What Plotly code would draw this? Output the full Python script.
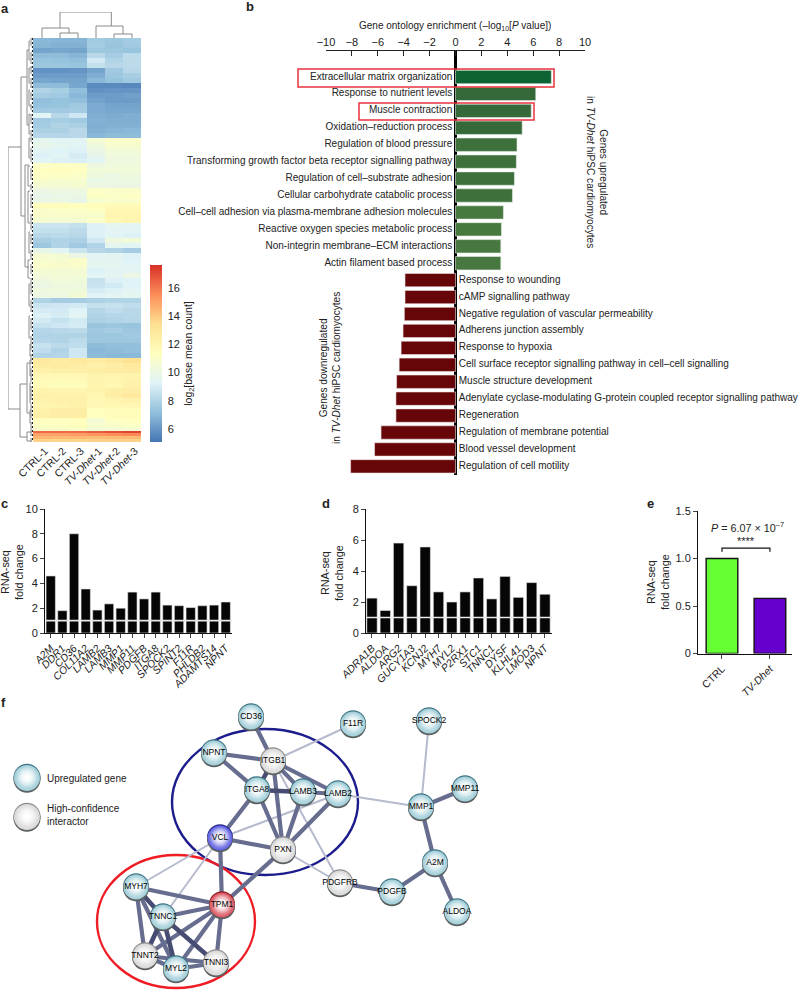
import numpy as np
import plotly.graph_objects as go

W, H = 800, 991
FONT = "Liberation Sans"
TXT = "#222222"

# ---------- panel a ----------
samples = ["CTRL-1", "CTRL-2", "CTRL-3", "<i>TV-Dhet</i>-1", "<i>TV-Dhet</i>-2", "<i>TV-Dhet</i>-3"]
heat_rows = [
[7.0,6.9,6.9,7.6,7.5,7.7],[6.9,6.8,6.8,7.7,7.4,7.6],[6.4,6.5,6.4,7.5,7.5,7.4],[7.1,7.1,6.9,8.2,7.7,8.3],
[7.4,7.3,7.2,8.9,8.0,8.3],[7.5,7.5,7.4,8.5,8.2,8.3],[5.9,5.9,6.0,6.4,7.6,8.2],[6.2,6.2,6.2,6.7,7.5,7.8],
[6.5,6.4,6.4,7.0,7.3,7.6],[7.1,7.1,6.5,5.7,5.7,5.6],[8.0,7.8,7.2,5.9,6.0,6.0],[7.7,7.6,7.0,6.2,6.2,6.3],
[7.2,7.3,7.2,6.4,6.2,6.2],[7.3,7.4,7.6,6.6,6.4,6.4],[7.6,7.6,7.7,6.6,6.5,6.5],[9.4,8.2,8.8,6.7,6.6,6.7],
[7.6,7.8,7.6,6.8,6.7,6.7],[7.7,8.0,7.9,6.7,6.8,6.8],[7.9,7.9,8.2,6.8,6.9,7.0],[8.1,8.1,8.2,7.0,7.1,7.1],
[9.6,9.5,9.5,10.6,11.0,11.0],[9.8,9.6,9.4,10.3,10.8,10.8],[9.4,9.3,9.2,10.0,10.5,10.5],[9.2,9.4,9.0,9.7,10.3,10.3],
[9.4,9.2,9.1,9.4,10.2,10.2],[11.1,11.2,11.2,10.2,10.3,10.3],[11.3,11.4,11.3,10.4,10.4,10.4],[11.2,11.2,11.1,10.2,10.1,10.2],
[10.9,10.8,10.8,9.9,10.1,10.1],[10.6,10.6,10.7,10.1,10.0,10.0],[10.0,10.1,10.1,11.1,11.0,11.0],[9.8,9.9,10.0,11.2,11.1,11.2],
[10.0,10.1,9.8,10.8,11.0,11.0],[11.5,11.5,11.4,11.6,11.7,11.7],[11.0,11.1,11.1,11.2,11.9,11.9],[10.9,10.9,10.9,10.9,12.0,12.0],
[10.7,10.6,10.7,11.1,11.8,12.0],[8.7,8.7,8.5,9.2,9.6,9.5],[8.5,8.5,8.3,9.2,9.4,9.4],[8.2,8.3,8.2,9.2,9.4,9.2],
[7.8,8.0,7.9,8.8,10.2,10.4],[7.5,8.0,7.6,8.0,9.6,9.4],[9.8,9.4,8.7,8.2,8.0,7.7],[10.6,10.5,10.0,9.4,9.5,9.2],
[10.8,10.8,11.0,9.6,9.5,9.3],[11.0,10.9,11.0,9.6,9.6,9.4],[10.7,10.6,10.6,9.2,9.4,9.5],[10.4,10.5,10.5,9.4,9.5,10.0],
[10.2,10.4,10.3,8.6,9.2,9.3],[10.0,10.2,10.2,8.7,8.9,9.3],[10.2,10.3,10.3,9.0,9.2,9.4],[10.1,10.1,10.5,9.3,9.5,9.6],
[8.0,7.7,7.7,7.9,8.0,8.0],[8.7,8.8,8.9,8.5,8.6,8.4],[9.0,8.9,9.3,8.1,8.4,8.2],[9.2,9.0,9.4,8.0,8.1,8.2],
[8.9,8.6,8.9,7.9,8.0,8.1],[8.6,8.8,9.0,7.4,7.5,7.4],[8.1,8.2,8.3,7.6,7.7,7.5],[8.0,8.0,8.0,7.5,7.5,7.6],
[8.1,8.0,8.3,7.5,7.5,7.5],[8.6,8.3,8.4,7.1,7.2,7.2],[8.4,8.0,8.8,7.0,7.1,7.2],[8.0,8.1,8.8,7.1,7.0,7.0],
[12.8,12.6,12.8,12.7,13.0,13.3],[12.6,12.7,12.5,12.3,12.5,12.8],[12.3,12.4,12.4,12.5,12.6,12.7],[11.9,11.8,11.9,12.1,12.0,12.1],
[11.7,11.6,11.7,12.0,12.0,12.2],[11.6,11.5,11.5,12.0,11.9,12.3],[12.1,12.0,12.0,12.1,12.4,12.5],[12.3,12.2,12.2,11.9,12.5,12.8],
[12.2,12.3,12.3,11.8,12.0,12.2],[12.0,12.1,12.3,11.8,11.8,11.9],[12.3,12.5,12.5,11.4,11.5,11.6],[12.4,12.5,12.4,11.3,11.6,11.6],
[11.4,11.3,11.4,10.6,11.2,11.3],[11.2,11.3,11.5,10.8,11.0,11.1],
[10.9,10.9,11.0,10.4,10.6,10.6],[16.3,16.3,16.3,16.6,16.9,17.2],[15.0,15.0,15.1,15.3,15.5,15.6],
[14.5,14.4,14.5,14.3,14.4,14.4],[13.8,13.7,13.7,13.8,13.8,13.8],
]
row_spans = [5] * 78 + [3, 2, 3, 3, 3]
heat_colors = ["#4575B4", "#91BFDB", "#E0F3F8", "#FFFFBF", "#FEE090", "#FC8D59", "#D73027"]
cbar_ticks = [6, 8, 10, 12, 14, 16]

# dendrograms: (pos_a, height_a, pos_b, height_b, merge height)
col_tree = [(1, 0, 2, 0, 5), (0, 0, 1.5, 5, 10), (4, 0, 5, 0, 4), (3, 0, 4.5, 4, 12), (1.0, 10, 3.85, 12, 26)]
row_tree = [
(109,12,371,13,25),(39,6,178,8,12),(12,4,87,4,6),(127,4,229,4,8),(346,6,399,6,13),(325,3,375,3,6),(394,1,403,1,6),
(3,3,22,3,4),(30,3,45,3,4),(52,3,68,3,4),(76,3,96,3,4),(100,3,120,3,4),(128,3,148,3,5),(153,3,185,3,5),(194,3,215,3,4),
(222,3,240,3,5),(246,3,268,3,4),(278,3,300,3,4),(306,2,318,2,3),(322,2,338,2,3),(345,2,365,2,3),(372,2,385,2,3),
]
row_clusters = [(0,8),(14,26),(28,36),(40,50),(54,62),(66,72),(76,86),(92,104),(110,124),(130,142),(146,152),(156,170),(176,192),
(196,206),(212,222),(226,236),(240,256),(262,274),(280,292),(298,312),(316,326),(330,344),(348,362),(366,380),(384,398),(400,404)]

# ---------- panel b ----------
go_terms_up = ["Extracellular matrix organization","Response to nutrient levels","Muscle contraction","Oxidation–reduction process",
"Regulation of blood pressure","Transforming growth factor beta receptor signalling pathway","Regulation of cell–substrate adhesion",
"Cellular carbohydrate catabolic process","Cell–cell adhesion via plasma-membrane adhesion molecules","Reactive oxygen species metabolic process",
"Non-integrin membrane–ECM interactions","Actin filament based process"]
go_up = [7.4,6.2,5.85,5.15,4.75,4.7,4.55,4.4,3.7,3.55,3.5,3.5]
go_up_colors = ["#0e6335","#35693a","#35693a","#35693a","#3e703c","#3e703c","#3e703c","#3e703c","#47783f","#47783f","#47783f","#47783f"]
go_terms_down = ["Response to wounding","cAMP signalling pathway","Negative regulation of vascular permeability","Adherens junction assembly",
"Response to hypoxia","Cell surface receptor signalling pathway in cell–cell signalling","Muscle structure development",
"Adenylate cyclase-modulating G-protein coupled receptor signalling pathway","Regeneration","Regulation of membrane potential",
"Blood vessel development","Regulation of cell motility"]
go_down = [-3.9,-3.9,-3.95,-4.05,-4.2,-4.35,-4.55,-4.6,-4.6,-5.75,-6.25,-8.1]
go_ticks = [-10,-8,-6,-4,-2,0,2,4,6,8,10]

# ---------- panels c, d, e ----------
c_genes = ["A2M","DDR1","CD36","COL11A2","LAMB2","LAMB3","MMP1","MMP11","PDGFB","ITGA8","SPOCK2","SPINT2","F11R","PHLDB2","ADAMTS14","NPNT"]
c_vals = [4.6,1.8,8.0,3.55,1.85,2.35,2.0,3.3,2.75,3.3,2.25,2.2,2.05,2.2,2.25,2.5]
d_genes = ["ADRA1B","ALDOA","ARG2","GUCY1A3","KCNJ2","MYH7","MYL2","P2RX1","STC1","TNNC1","DYSF","KLHL41","LMOD3","NPNT"]
d_vals = [2.25,1.45,5.8,3.05,5.55,2.65,2.0,2.65,3.55,2.2,3.65,2.3,3.25,2.5]
e_groups = ["CTRL","<i>TV-Dhet</i>"]
e_vals = [1.0,0.58]
e_colors = ["#66ff33","#6600cc"]

# ---------- panel f ----------
nodes = {"CD36":(251,717,"t"),"F11R":(353,724,"t"),"SPOCK2":(429,721,"t"),"NPNT":(214,753,"t"),"ITGB1":(273,761,"g"),
"ITGA8":(257,790,"t"),"LAMB3":(303,792,"t"),"LAMB2":(338,794,"t"),"MMP1":(421,807,"t"),"MMP11":(465,789,"t"),
"VCL":(220,838,"b"),"PXN":(283,850,"g"),"PDGFRB":(340,883,"g"),"PDGFB":(392,892,"t"),"A2M":(435,863,"t"),"ALDOA":(457,912,"t"),
"MYH7":(136,887,"t"),"TPM1":(222,905,"r"),"TNNC1":(163,917,"t"),"TNNT2":(145,956,"g"),"MYL2":(176,969,"t"),"TNNI3":(216,963,"g")}
strong_edges = [("TNNC1","TNNI3"),("TNNC1","MYL2"),("MYH7","TNNC1"),("ITGB1","ITGA8"),("ITGA8","LAMB3"),("TNNC1","TNNT2")]
medium_edges = [("NPNT","ITGB1"),("NPNT","ITGA8"),("ITGB1","LAMB3"),("ITGB1","LAMB2"),("ITGB1","PXN"),("LAMB3","LAMB2"),
("ITGA8","PXN"),("LAMB3","PXN"),("LAMB2","PXN"),("VCL","PXN"),("VCL","ITGA8"),("VCL","TPM1"),("TPM1","PXN"),("MYH7","TPM1"),
("MYH7","TNNT2"),("MYH7","MYL2"),("TPM1","TNNC1"),("TPM1","TNNT2"),("TPM1","MYL2"),("TPM1","TNNI3"),("TNNT2","MYL2"),
("TNNT2","TNNI3"),("MYL2","TNNI3"),("MMP1","MMP11"),("MMP1","A2M"),("A2M","PDGFB"),("A2M","ALDOA"),("PDGFRB","PDGFB"),("CD36","ITGB1")]
light_edges = [("F11R","ITGB1"),("SPOCK2","MMP1"),("LAMB2","MMP1"),("VCL","LAMB2"),("VCL","MYH7"),("VCL","TNNC1"),("ITGB1","PDGFRB"),("PXN","PDGFRB")]
node_palette = {"t":("#9fcdd8","#3f7585"),"g":("#d8d8d8","#8c8c8c"),"b":("#5a5ae0","#2a2a90"),"r":("#d9505c","#8a1c24")}
legend_items = [("Upregulated gene","t",778),("High-confidence<br>interactor","g",817)]


def xd(a, b):
    return [a / W, b / W]


def yd(top, bottom):
    return [1 - bottom / H, 1 - top / H]


def ann(x, y, text, size=11, angle=0, anchor="center", color=TXT, bold=False):
    return dict(x=x / W, y=1 - y / H, xref="paper", yref="paper", text=f"<b>{text}</b>" if bold else text, showarrow=False,
                font=dict(family=FONT, size=size, color=color), textangle=angle, xanchor=anchor, yanchor="middle",
                align="left" if anchor == "left" else "center")


def tree_path(tree, swap=False):
    a, b = [], []
    for pa, ha, pb, hb, h in tree:
        a += [pa, pa, pb, pb, None]
        b += [ha, h, h, hb, None]
    return (b, a) if swap else (a, b)


fig = go.Figure()
GREY = dict(color="#8a8a8a", width=1)

# heatmap
edges = np.concatenate([[0], np.cumsum(row_spans)])
n_c = len(heat_colors) - 1
fig.add_trace(go.Heatmap(z=heat_rows, x=list(range(6)), y=edges, xaxis="x2", yaxis="y2", zmin=5.1, zmax=17.6,
    colorscale=[[i / n_c, c] for i, c in enumerate(heat_colors)],
    colorbar=dict(x=150 / W, xanchor="left", xpad=0, y=1 - 265 / H, yanchor="top", ypad=0, lenmode="pixels", len=176.7,
                  thickness=12, outlinewidth=0, tickvals=cbar_ticks, ticks="outside", ticklen=4, tickcolor="rgba(255,255,255,0)",
                  tickfont=dict(family=FONT, size=11, color=TXT),
                  title=dict(text="log<sub>2</sub>[base mean count]", side="right", font=dict(family=FONT, size=10.5, color=TXT)))))
cx, cy = tree_path(col_tree)
fig.add_trace(go.Scatter(x=cx, y=cy, mode="lines", line=GREY, xaxis="x2", yaxis="y3", hoverinfo="skip"))
rx, ry = tree_path(row_tree, swap=True)
for r0, r1 in row_clusters:
    rx += [2, 2, None]
    ry += [r0, r1, None]
fig.add_trace(go.Scatter(x=rx, y=ry, mode="lines", line=GREY, xaxis="x3", yaxis="y2", hoverinfo="skip"))
fig.add_trace(go.Scatter(x=[0.5, 0.5], y=[0, int(edges[-1])], mode="lines", line=dict(color="#222", width=1.2, dash="2px,2px"),
                         xaxis="x3", yaxis="y2", hoverinfo="skip"))

# GO bars
n_up = len(go_up)
yb_up = list(range(n_up))
yb_dn = list(range(n_up, n_up + len(go_down)))
fig.add_trace(go.Bar(x=go_up, y=yb_up, orientation="h", width=0.79, marker=dict(color=go_up_colors, line=dict(color="#e6efe6", width=0.6)), xaxis="x4", yaxis="y4"))
fig.add_trace(go.Bar(x=go_down, y=yb_dn, orientation="h", width=0.79, marker=dict(color="#660608", line=dict(color="#efe4e4", width=0.6)), xaxis="x4", yaxis="y4"))
fig.add_trace(go.Scatter(x=[-0.25] * n_up, y=yb_up, text=go_terms_up, mode="text", textposition="middle left",
                         textfont=dict(family=FONT, size=10, color=TXT), xaxis="x4", yaxis="y4", cliponaxis=False))
fig.add_trace(go.Scatter(x=[0.25] * len(go_down), y=yb_dn, text=go_terms_down, mode="text", textposition="middle right",
                         textfont=dict(family=FONT, size=10, color=TXT), xaxis="x4", yaxis="y4", cliponaxis=False))

# bars c, d, e
bar_line = dict(color="#e4e4e4", width=0.6)
fig.add_trace(go.Bar(x=list(range(len(c_vals))), y=c_vals, width=0.8, marker=dict(color="#060606", line=bar_line), xaxis="x5", yaxis="y5"))
fig.add_trace(go.Bar(x=list(range(len(d_vals))), y=d_vals, width=0.78, marker=dict(color="#060606", line=bar_line), xaxis="x6", yaxis="y6"))
fig.add_trace(go.Bar(x=[0, 1], y=e_vals, width=0.66, marker=dict(color=e_colors, line=dict(color="#111", width=1.4)), xaxis="x7", yaxis="y7"))
fig.add_trace(go.Scatter(x=[0, 0, 1, 1], y=[1.07, 1.11, 1.11, 1.07], mode="lines", line=dict(color="#111", width=1.2), xaxis="x7", yaxis="y7"))


# network
def edge_xy(edges_):
    xs, ys = [], []
    for a, b in edges_:
        xs += [nodes[a][0], nodes[b][0], None]
        ys += [nodes[a][1], nodes[b][1], None]
    return xs, ys


for e_list, col, wid in [(light_edges, "#b6bacd", 2), (medium_edges, "#666d8e", 4.2), (strong_edges, "#474c72", 4.6)]:
    ex, ey = edge_xy(e_list)
    fig.add_trace(go.Scatter(x=ex, y=ey, mode="lines", line=dict(color=col, width=wid), xaxis="x", yaxis="y", hoverinfo="skip"))


def sphere(xs, ys, kinds, size):
    base = [node_palette[k][0] for k in kinds]
    rim = [node_palette[k][1] for k in kinds]
    fig.add_trace(go.Scatter(x=xs, y=[v - 0.8 for v in ys], mode="markers", marker=dict(size=size, color=rim, line=dict(width=0)), xaxis="x", yaxis="y"))
    fig.add_trace(go.Scatter(x=xs, y=[v + 1.2 for v in ys], mode="markers", marker=dict(size=size, color="#5a5f60", line=dict(width=0)), xaxis="x", yaxis="y"))
    fig.add_trace(go.Scatter(x=xs, y=ys, mode="markers", marker=dict(size=size - 1, color=base, line=dict(width=0),
                             gradient=dict(type="radial", color="#ffffff")), xaxis="x", yaxis="y"))
    fig.add_trace(go.Scatter(x=xs, y=[v - 1.5 for v in ys], mode="markers", marker=dict(size=size - 6, color="rgba(255,255,255,0)", line=dict(width=0),
                             gradient=dict(type="radial", color="rgba(255,255,255,1)")), xaxis="x", yaxis="y"))


names = list(nodes)
sphere([nodes[n][0] for n in names], [nodes[n][1] for n in names], [nodes[n][2] for n in names], 26)
fig.add_trace(go.Scatter(x=[nodes[n][0] for n in names], y=[nodes[n][1] for n in names], text=names, mode="text",
                         textposition="middle center", textfont=dict(family=FONT, size=8.5, color="#000"), xaxis="x", yaxis="y"))
sphere([27 for _ in legend_items], [it[2] for it in legend_items], [it[1] for it in legend_items], 27)

axis_off = dict(visible=False, showgrid=False, zeroline=False)
tick_font = dict(family=FONT, size=11, color=TXT)
gene_font = dict(family=FONT, size=10.5, color=TXT)
layout = dict(
    width=W, height=H, margin=dict(l=0, r=0, t=0, b=0, autoexpand=False), showlegend=False, plot_bgcolor="rgba(0,0,0,0)", paper_bgcolor="white",
    barmode="overlay", hovermode=False,
    xaxis=dict(domain=[0, 1], range=[0, W], **axis_off),
    yaxis=dict(domain=[0, 1], range=[H, 0], **axis_off),
    xaxis2=dict(domain=xd(33, 141), range=[-0.5, 5.5], anchor="y2", tickvals=list(range(6)), ticktext=samples, tickangle=-45, ticklabelshift=3,
                showgrid=False, zeroline=False, ticks="", tickfont=gene_font, showline=False),
    yaxis2=dict(domain=yd(38, 442), range=[404, 0], anchor="x2", **axis_off),
    yaxis3=dict(domain=yd(12, 38), range=[0, 26], anchor="x2", **axis_off),
    xaxis3=dict(domain=xd(8, 33), range=[25, 0], anchor="y2", **axis_off),
    xaxis4=dict(domain=xd(326, 585), range=[-10, 10], anchor="y4", side="top", tickvals=go_ticks, ticks="inside", ticklen=5,
                tickcolor="#222", showline=True, linecolor="#222", linewidth=1, showgrid=False, zeroline=True, zerolinecolor="#000",
                zerolinewidth=3, tickfont=tick_font, tickformat="d"),
    yaxis4=dict(domain=yd(51, 475), range=[23.51, -1.536], anchor="x4", **axis_off),
    xaxis5=dict(domain=xd(45, 232), range=[-0.49, 15.54], anchor="y5", tickvals=list(range(len(c_genes))), ticktext=[f"<i>{g}</i>" for g in c_genes],
                tickangle=-45, ticks="outside", ticklen=4, showline=True, linecolor="#111", showgrid=False, zeroline=False, tickfont=gene_font),
    yaxis5=dict(domain=yd(509, 633), range=[0, 10], anchor="x5", tickvals=[0, 2, 4, 6, 8, 10], ticks="outside", ticklen=4, showline=True,
                linecolor="#111", showgrid=False, zeroline=False, tickfont=tick_font),
    xaxis6=dict(domain=xd(366, 552), range=[-0.45, 13.53], anchor="y6", tickvals=list(range(len(d_genes))), ticktext=[f"<i>{g}</i>" for g in d_genes],
                tickangle=-45, ticks="outside", ticklen=4, showline=True, linecolor="#111", showgrid=False, zeroline=False, tickfont=gene_font),
    yaxis6=dict(domain=yd(509, 633), range=[0, 8], anchor="x6", tickvals=[0, 2, 4, 6, 8], ticks="outside", ticklen=4, showline=True,
                linecolor="#111", showgrid=False, zeroline=False, tickfont=tick_font),
    xaxis7=dict(domain=xd(698, 792), range=[-0.5, 1.46], anchor="y7", tickvals=[0, 1], ticktext=e_groups, tickangle=-45, ticks="outside", ticklen=4,
                showline=True, linecolor="#111", showgrid=False, zeroline=False, tickfont=gene_font),
    yaxis7=dict(domain=yd(511, 653.5), range=[0, 1.5], anchor="x7", tickvals=[0, 0.5, 1, 1.5], ticktext=["0", "0.5", "1.0", "1.5"], ticks="outside", ticklen=4,
                showline=True, linecolor="#111", showgrid=False, zeroline=False, tickfont=tick_font),
)
annotations = [
    ann(5, 8, "a", 13, bold=True), ann(250, 7, "b", 13, bold=True), ann(4, 503, "c", 13, bold=True), ann(326, 503, "d", 13, bold=True),
    ann(650, 503, "e", 13, bold=True), ann(3, 702, "f", 13, bold=True),
    ann(455, 26, "Gene ontology enrichment (–log<sub>10</sub>[<i>P</i> value])", 10),
    ann(597, 172, "Genes upregulated<br>in <i>TV-Dhet</i> hiPSC cardiomyocytes", 10.1, angle=90),
    ann(330, 368, "Genes downregulated<br>in <i>TV-Dhet</i> hiPSC cardiomyocytes", 10.1, angle=-90),
    ann(12, 572, "RNA-seq<br>fold change", 10.8, angle=-90),
    ann(332, 573, "RNA-seq<br>fold change", 10.8, angle=-90),
    ann(658, 582, "RNA-seq<br>fold change", 10.8, angle=-90),
    ann(747, 527, "<i>P</i> = 6.07 × 10<sup>–7</sup>", 10.8),
    ann(746, 541, "****", 11),
]
for text, kind, y in legend_items:
    annotations.append(ann(45, y - (2 if "<br>" in text else 0), text, 10, anchor="left"))
layout["annotations"] = annotations
layout["shapes"] = [
    dict(type="line", xref="x5", yref="y5", x0=-0.49, x1=15.54, y0=1, y1=1, line=dict(color="#e8e8e8", width=1.6)),
    dict(type="line", xref="x6", yref="y6", x0=-0.45, x1=13.53, y0=1, y1=1, line=dict(color="#e8e8e8", width=1.6)),
    dict(type="rect", xref="paper", yref="paper", x0=298 / W, x1=554 / W, y0=1 - 87 / H, y1=1 - 69 / H, line=dict(color="#e8323c", width=1.5)),
    dict(type="rect", xref="paper", yref="paper", x0=359 / W, x1=534 / W, y0=1 - 120 / H, y1=1 - 103 / H, line=dict(color="#e8323c", width=1.5)),
    dict(type="circle", xref="x", yref="y", x0=172, x1=358, y0=729, y1=875, line=dict(color="#1c1c8c", width=2.4), layer="below"),
    dict(type="circle", xref="x", yref="y", x0=97, x1=255, y0=855, y1=988, line=dict(color="#ee1c25", width=2.4), layer="below"),
]
fig.update_layout(**layout)
fig.write_html("out.html", config=dict(displayModeBar=False), post_script="document.body.style.margin='0';")
